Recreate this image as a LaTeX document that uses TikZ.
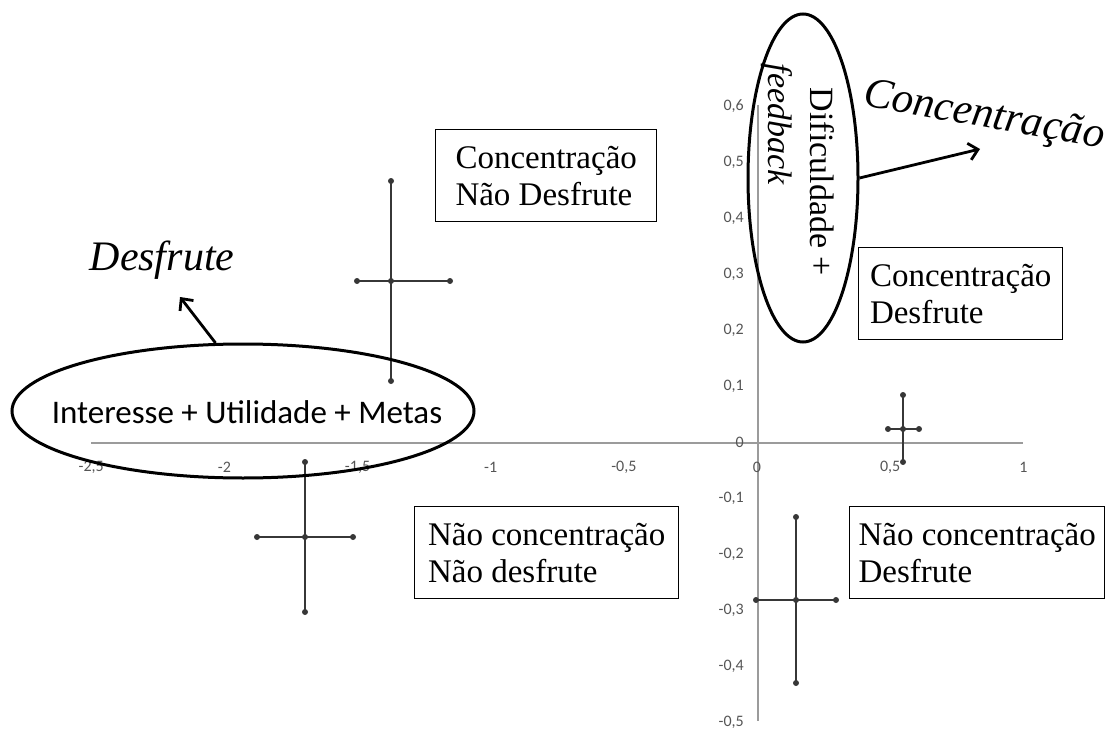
\documentclass[tikz,border=0pt]{standalone}
\usepackage{fontspec}
\setmainfont{Liberation Serif}
\newfontfamily\calib{Carlito}
\usetikzlibrary{shapes.geometric,arrows.meta}
\definecolor{axisgray}{RGB}{155,155,155}
\definecolor{labgray}{RGB}{85,85,85}
\definecolor{bargray}{RGB}{55,55,55}
\begin{document}
\begin{tikzpicture}[x=1pt,y=-1pt,
  axis/.style={draw=axisgray,line width=1.3pt},
  tick/.style={font=\calib\fontsize{16}{16}\selectfont,text=labgray,inner sep=0pt},
  bar/.style={draw=bargray,line width=1.8pt},
  dot/.style={circle,fill=bargray,inner sep=0pt,minimum size=6pt},
  qbox/.style={draw=black,line width=1.4pt,align=left,font=\fontsize{33}{37}\selectfont,anchor=north west,minimum height=92pt},
  ell/.style={draw=black,ellipse,line width=3pt,inner sep=0pt},
  arr/.style={line width=2.8pt,-{Straight Barb[length=9pt,width=17pt]}}
]
\useasboundingbox (0,0) rectangle (1111,733);
% axes
\coordinate (xa) at (91,443); \coordinate (xb) at (1023,443);
\coordinate (ya) at (758,105); \coordinate (yb) at (758,721);
\draw[axis] (xa) -- (xb);
\draw[axis] (ya) -- (yb);
\foreach \v/\t in {-2.5/{-2,5},-2/{-2},-1.5/{-1,5},-1/{-1},-0.5/{-0,5},0/{0},0.5/{0,5},1/{1}}
  \node[tick] at ({757+266.3*(\v)},467) {\t};
\foreach \v/\t in {0.6/{0,6},0.5/{0,5},0.4/{0,4},0.3/{0,3},0.2/{0,2},0.1/{0,1},0/{0},-0.1/{-0,1},-0.2/{-0,2},-0.3/{-0,3},-0.4/{-0,4},-0.5/{-0,5}}
  \node[tick,anchor=east] at (744,{442-560*(\v)}) {\t};
% error bars
\foreach \cx/\cy/\xl/\xr/\yt/\yb in {391/281/357/450/181/381, 305/537/257/353/462/612, 796/600/756/836/517/683, 903/429/888/919/395/462}{
  \draw[bar] (\xl,\cy) -- (\xr,\cy);
  \draw[bar] (\cx,\yt) -- (\cx,\yb);
  \foreach \p in {(\xl,\cy),(\xr,\cy),(\cx,\yt),(\cx,\yb),(\cx,\cy)}
    \node[dot] at \p {};
}
% boxes
\node[qbox,minimum width=221pt] (b1) at (435,129) {Concentração\\Não Desfrute};
\node[qbox,minimum width=204pt] (b2) at (858,247) {Concentração\\Desfrute};
\node[qbox,minimum width=264pt] (b3) at (414,506) {Não concentração\\Não desfrute};
\node[qbox,minimum width=255pt] (b4) at (849,506) {Não concentração\\Desfrute};
% horizontal ellipse
\node[ell,minimum width=462pt,minimum height=134pt] (e1) at (243,411) {};
\node[font=\calib\fontsize{33}{33}\selectfont,inner sep=0pt] (t1) at (247,412) {Interesse + Utilidade + Metas};
\node[font=\itshape\fontsize{42}{42}\selectfont] (des) at (162,260) {Desfrute};
\coordinate (d2) at (180,297);
\draw[arr] (e1.112) -- (d2);
% vertical ellipse
\node[ell,minimum width=110pt,minimum height=328pt] (e2) at (803,178) {};
\node[rotate=-90,font=\fontsize{34}{34}\selectfont] (dif) at (822,182) {Dificuldade +};
\node[rotate=-90,font=\itshape\fontsize{34}{34}\selectfont] (fb) at (777,124) {feedback};
\node[rotate=-10,font=\itshape\fontsize{43}{43}\selectfont] (con) at (984,117) {Concentração};
\coordinate (c2) at (980,149);
\draw[arr] (e2.east) -- (c2);
\end{tikzpicture}
\end{document}
